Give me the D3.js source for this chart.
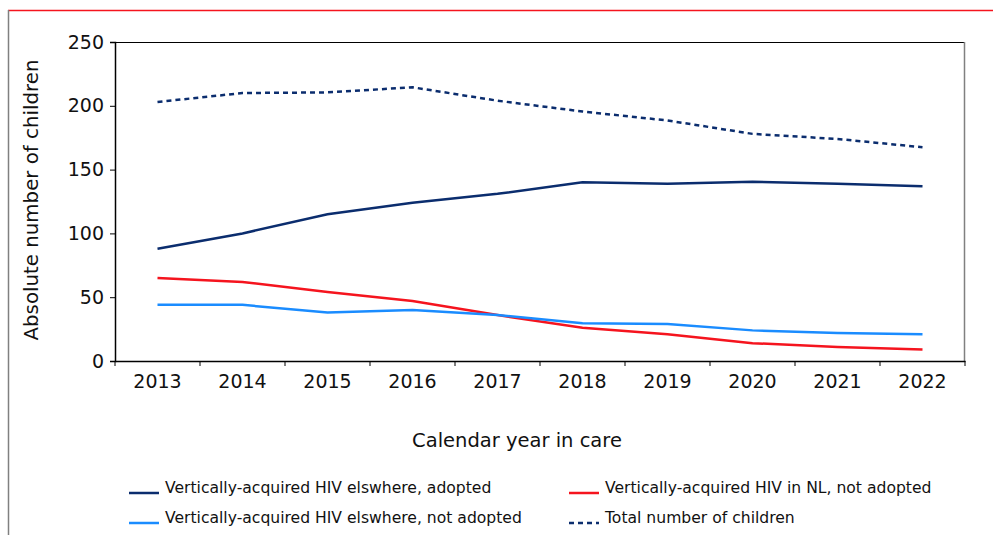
<!DOCTYPE html>
<html lang="en">
  <head>
    <meta charset="UTF-8" />
    <title>Children in care</title>
    <script src="https://d3js.org/d3.v7.min.js"></script>
    <style>
      body {
        margin: 0;
        background: white;
      }
      text {
        font-family: "DejaVu Sans", Verdana, sans-serif;
        fill: #111;
      }
    </style>
  </head>
  <body>
    <script>
      const years = ["2013", "2014", "2015", "2016", "2017", "2018", "2019", "2020", "2021", "2022"];
      const adopted = [88, 100, 115, 124, 131, 140, 139, 140.5, 139, 137];
      const notAdopted = [44, 44, 38, 40, 36, 29.5, 29, 24, 22, 21];
      const inNL = [65, 62, 54, 47, 36, 26, 21, 14, 11, 9];
      const total = [203, 210, 210.5, 214.5, 204, 195.5, 188.5, 178, 174, 167.5];
      const yTicks = [0, 50, 100, 150, 200, 250];

      const series = [
        { name: "Vertically-acquired HIV elswhere, adopted", values: adopted, color: "#0b2d6e", dash: null },
        { name: "Vertically-acquired HIV in NL, not adopted", values: inNL, color: "#f5141e", dash: null },
        { name: "Vertically-acquired HIV elswhere, not adopted", values: notAdopted, color: "#1a8cff", dash: null },
        { name: "Total number of children", values: total, color: "#0b2d6e", dash: "5,4" }
      ];

      const width = 993;
      const height = 535;
      const svg = d3.select("body").append("svg")
        .attr("width", width)
        .attr("height", height);

      // outer frame (red top, grey left)
      svg.append("line").attr("x1", 8).attr("x2", width).attr("y1", 10.5).attr("y2", 10.5)
        .attr("stroke", "#f5141e").attr("stroke-width", 1.5);
      svg.append("line").attr("x1", 8.5).attr("x2", 8.5).attr("y1", 10).attr("y2", height)
        .attr("stroke", "#808080").attr("stroke-width", 1.5);

      const mLeft = 115, mRight = 965, mTop = 42, mBottom = 361;

      const x = d3.scaleBand().domain(years).range([mLeft, mRight]);
      const y = d3.scaleLinear().domain([0, 250]).range([mBottom, mTop]);

      // plot frame: top black, right grey
      svg.append("line").attr("x1", mLeft).attr("x2", mRight).attr("y1", mTop + 0.5).attr("y2", mTop + 0.5)
        .attr("stroke", "#000").attr("stroke-width", 1.2);
      svg.append("line").attr("x1", mRight - 0.5).attr("x2", mRight - 0.5).attr("y1", mTop).attr("y2", mBottom)
        .attr("stroke", "#808080").attr("stroke-width", 1.5);

      const yAxis = svg.append("g")
        .attr("transform", `translate(${mLeft},0)`)
        .call(d3.axisLeft(y).tickValues(yTicks).tickSize(5).tickPadding(6));
      yAxis.selectAll("text").style("font-size", "19px");

      const xAxis = svg.append("g")
        .attr("transform", `translate(0,${mBottom})`)
        .call(d3.axisBottom(x).tickSize(0).tickPadding(14));
      xAxis.selectAll("text").style("font-size", "19px");
      // ticks at band boundaries
      const bounds = years.map(d => x(d)).concat([mRight]);
      xAxis.selectAll(".bound").data(bounds).join("line")
        .attr("class", "bound")
        .attr("x1", d => d).attr("x2", d => d)
        .attr("y1", 0).attr("y2", 5)
        .attr("stroke", "#000");
      svg.selectAll(".domain").attr("stroke", "#000").attr("stroke-width", 1.5);
      svg.selectAll(".tick line").attr("stroke", "#000");

      svg.append("text")
        .attr("transform", `translate(38,200) rotate(-90)`)
        .attr("text-anchor", "middle")
        .style("font-size", "19.8px")
        .text("Absolute number of children");

      svg.append("text")
        .attr("x", 517).attr("y", 447)
        .attr("text-anchor", "middle")
        .style("font-size", "19.5px")
        .text("Calendar year in care");

      const line = d3.line()
        .x((d, i) => x(years[i]) + x.bandwidth() / 2)
        .y(d => y(d));

      svg.selectAll(".series").data(series).join("path")
        .attr("class", "series")
        .attr("d", d => line(d.values))
        .attr("fill", "none")
        .attr("stroke", d => d.color)
        .attr("stroke-width", 2.5)
        .attr("stroke-dasharray", d => d.dash);

      // legend
      const legendPos = [
        { x: 129, y: 493 },
        { x: 569, y: 493 },
        { x: 129, y: 523 },
        { x: 569, y: 523 }
      ];
      const lg = svg.selectAll(".legend").data(series).join("g")
        .attr("class", "legend")
        .attr("transform", (d, i) => `translate(${legendPos[i].x},${legendPos[i].y})`);
      lg.append("line")
        .attr("x1", 0).attr("x2", 30).attr("y1", 0).attr("y2", 0)
        .attr("stroke", d => d.color)
        .attr("stroke-width", 2.5)
        .attr("stroke-dasharray", d => d.dash);
      lg.append("text")
        .attr("x", 36).attr("y", 0)
        .style("font-size", "15.6px")
        .text(d => d.name);
    </script>
  </body>
</html>
